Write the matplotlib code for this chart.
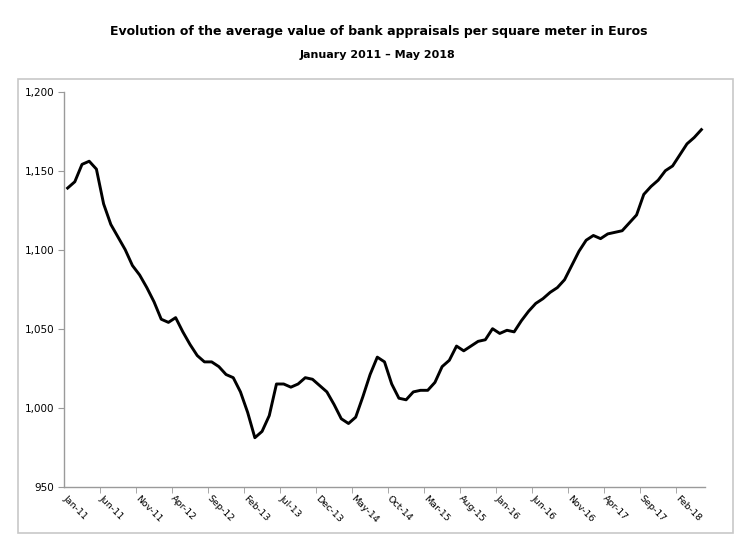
import numpy as np
import matplotlib
matplotlib.use("Agg")
import matplotlib.pyplot as plt
from matplotlib.patches import Rectangle

# monthly values, Jan 2011 - May 2018 (EUR per m2)
values = [
    1139, 1143, 1154, 1156, 1151, 1129, 1116, 1108, 1100, 1090,
    1084, 1076, 1067, 1056, 1054, 1057, 1048, 1040, 1033, 1029,
    1029, 1026, 1021, 1019, 1010, 997, 981, 985, 995, 1015,
    1015, 1013, 1015, 1019, 1018, 1014, 1010, 1002, 993, 990,
    994, 1007, 1021, 1032, 1029, 1015, 1006, 1005, 1010, 1011,
    1011, 1016, 1026, 1030, 1039, 1036, 1039, 1042, 1043, 1050,
    1047, 1049, 1048, 1055, 1061, 1066, 1069, 1073, 1076, 1081,
    1090, 1099, 1106, 1109, 1107, 1110, 1111, 1112, 1117, 1122,
    1135, 1140, 1144, 1150, 1153, 1160, 1167, 1171, 1176,
]
months = ["Jan", "Feb", "Mar", "Apr", "May", "Jun",
          "Jul", "Aug", "Sep", "Oct", "Nov", "Dec"]
labels = ["%s-%02d" % (months[i % 12], 11 + i // 12) for i in range(len(values))]

title = "Evolution of the average value of bank appraisals per square meter in Euros"
subtitle = "January 2011 \u2013 May 2018"

fig = plt.figure(figsize=(7.5, 5.42), dpi=100)

# light grey frame around the chart area
fig.patches.append(Rectangle((18 / 750, 1 - 533 / 542), 715 / 750, 454 / 542,
                             transform=fig.transFigure, fill=False,
                             edgecolor="#c8c8c8", linewidth=1.2))

fig.text(0.505, 1 - 31 / 542, title, ha="center", va="center",
         fontsize=9.0, fontweight="bold", family="DejaVu Sans")
fig.text(0.503, 1 - 55 / 542, subtitle, ha="center", va="center",
         fontsize=8, fontweight="bold", family="DejaVu Sans")

ax = fig.add_axes([64 / 750, 1 - 486.7 / 542, 641 / 750, (486.7 - 91.7) / 542])
x = np.arange(len(values))
ax.plot(x, values, color="black", linewidth=2.1, solid_joinstyle="round")

ax.set_xlim(-0.5, len(values) - 0.5)
ax.set_ylim(950, 1200)
ax.set_yticks(range(950, 1201, 50))
ax.set_yticklabels(["{:,}".format(v) for v in range(950, 1201, 50)], fontsize=7.5)

ax.set_xticks(x[::5])
ax.set_xticklabels(labels[::5], fontsize=6.8, rotation=-45, ha="left", va="top",
                   rotation_mode="anchor")
ax.set_xticks(np.arange(4.5, len(values), 5), minor=True)
ax.tick_params(axis="x", which="major", length=0, pad=5)
ax.tick_params(axis="x", which="minor", length=4, color="#9a9a9a", direction="out")
ax.tick_params(axis="y", length=4, color="#9a9a9a", direction="out", pad=3)

for s in ["top", "right"]:
    ax.spines[s].set_visible(False)
for s in ["left", "bottom"]:
    ax.spines[s].set_color("#9a9a9a")
    ax.spines[s].set_linewidth(1.0)

plt.savefig("out.png", dpi=100)
